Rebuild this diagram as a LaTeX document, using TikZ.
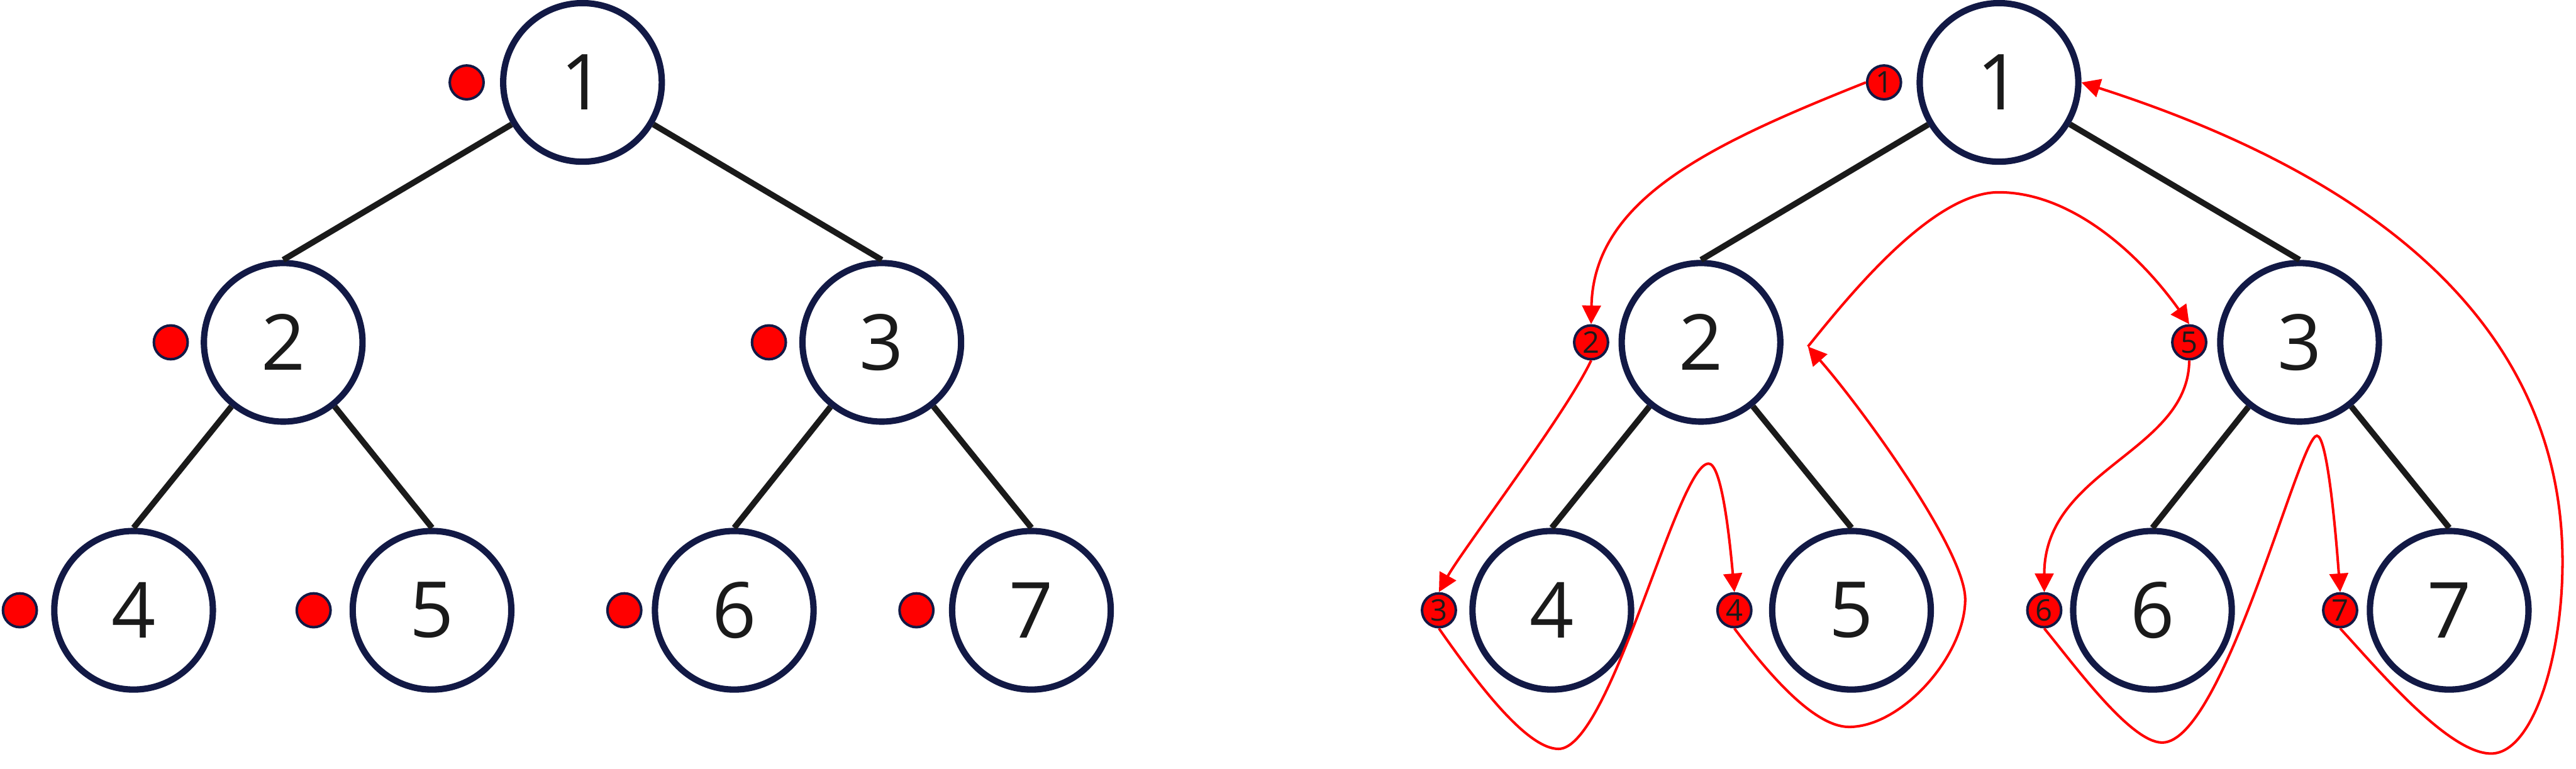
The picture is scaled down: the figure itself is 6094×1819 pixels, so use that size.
\documentclass[tikz,border=0pt]{standalone}
\usepackage{fontspec}
\setmainfont{Open Sans}
\usetikzlibrary{arrows.meta}
\definecolor{trNavy}{RGB}{18,25,69}
\definecolor{trInk}{RGB}{26,26,26}
\definecolor{trRed}{RGB}{255,0,0}

\begin{document}
\begin{tikzpicture}[x=0.01cm,y=-0.01cm,
      tnode/.style={circle,draw=trNavy,line width=0.15cm,fill=white,minimum size=3.75cm,
                    inner sep=0pt,text=trInk,font=\fontsize{52}{52}\selectfont},
      visit/.style={circle,draw=trNavy,line width=0.06cm,fill=trRed,minimum size=0.8cm,
                    inner sep=0pt,text=trInk,font=\fontsize{20}{20}\selectfont},
      link/.style={draw=trInk,line width=0.14cm},
      walk/.style={draw=trRed,line width=0.06cm},
      walkarr/.style={walk,-{Triangle[length=0.44cm,width=0.44cm]}}]
    \useasboundingbox (0,0) rectangle (6094,1819);

    % left tree: plain markers
    \node[tnode] (a1) at (1378,195) {1};
    \node[tnode] (a2) at (670,810) {2};
    \node[tnode] (a3) at (2086,810) {3};
    \node[tnode] (a4) at (316,1444) {4};
    \node[tnode] (a5) at (1022,1444) {5};
    \node[tnode] (a6) at (1737,1444) {6};
    \node[tnode] (a7) at (2440,1444) {7};
    \node[visit] (da1) at (1104,195) {};
    \node[visit] (da2) at (404,810) {};
    \node[visit] (da3) at (1819,810) {};
    \node[visit] (da4) at (47,1444) {};
    \node[visit] (da5) at (742,1444) {};
    \node[visit] (da6) at (1477,1444) {};
    \node[visit] (da7) at (2168,1444) {};
    \draw[link] (a1) -- (a2.north);
    \draw[link] (a1) -- (a3.north);
    \draw[link] (a2) -- (a4.north);
    \draw[link] (a2) -- (a5.north);
    \draw[link] (a3) -- (a6.north);
    \draw[link] (a3) -- (a7.north);

    % right tree: numbered markers and the walk
    \node[tnode] (b1) at (4729,195) {1};
    \node[tnode] (b2) at (4024,810) {2};
    \node[tnode] (b3) at (5440,810) {3};
    \node[tnode] (b4) at (3671,1444) {4};
    \node[tnode] (b5) at (4380,1444) {5};
    \node[tnode] (b6) at (5092,1444) {6};
    \node[tnode] (b7) at (5794,1444) {7};
    \node[visit] (db1) at (4457,195) {1};
    \node[visit] (db2) at (3764,810) {2};
    \node[visit] (db3) at (3404,1444) {3};
    \node[visit] (db4) at (4103,1444) {4};
    \node[visit] (db5) at (5179,810) {5};
    \node[visit] (db6) at (4836,1444) {6};
    \node[visit] (db7) at (5536,1444) {7};
    \draw[link] (b1) -- (b2.north);
    \draw[link] (b1) -- (b3.north);
    \draw[link] (b2) -- (b4.north);
    \draw[link] (b2) -- (b5.north);
    \draw[link] (b3) -- (b6.north);
    \draw[link] (b3) -- (b7.north);

    \coordinate (back2) at (4277,820);
    \draw[walkarr] (db1.west) .. controls (4050,340) and (3770,470) .. (db2.north);
    \draw[walkarr] (db2.south) .. controls (3704,980) and (3460,1300) .. (db3.north);
    \draw[walkarr] (db3.south) .. controls (3490,1610) and (3610,1772) .. (3687,1772)
      .. controls (3810,1772) and (3968,1097) .. (4042,1097)
      .. controls (4070,1097) and (4089,1243) .. (db4.north);
    \draw[walkarr] (db4.south) .. controls (4180,1590) and (4290,1720) .. (4374,1720)
      .. controls (4500,1720) and (4649,1550) .. (4649,1418)
      .. controls (4649,1300) and (4400,960) .. (back2);
    \draw[walkarr] (back2) .. controls (4370,705) and (4570,455) .. (4728,455)
      .. controls (4900,455) and (5060,600) .. (db5.north);
    \draw[walkarr] (db5.south) .. controls (5177,1070) and (4836,1110) .. (db6.north);
    \draw[walkarr] (db6.south) .. controls (4906,1572) and (5040,1757) .. (5115,1757)
      .. controls (5260,1757) and (5440,1031) .. (5481,1031)
      .. controls (5505,1031) and (5525,1250) .. (db7.north);
    \draw[walkarr] (db7.south) .. controls (5616,1573) and (5790,1783) .. (5893,1783)
      .. controls (5990,1783) and (6062,1560) .. (6062,1329)
      .. controls (6062,700) and (5500,380) .. (b1.east);
  \end{tikzpicture}
\end{document}
